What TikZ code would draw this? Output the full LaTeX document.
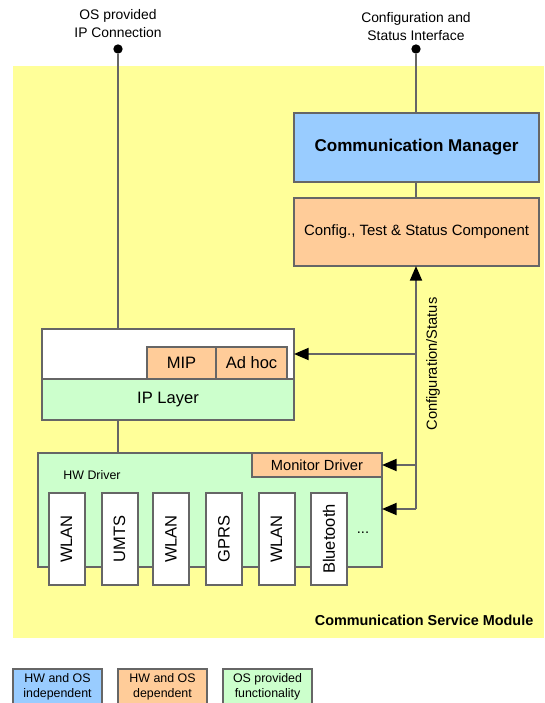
\documentclass[tikz,border=0pt]{standalone}
\usepackage{fontspec}
\setmainfont{Liberation Sans}
\usepackage{tikz}
\usetikzlibrary{arrows.meta, positioning, calc}
\usepackage{xcolor}
\definecolor{indepblue}{RGB}{153,204,255}
\definecolor{depfill}{RGB}{255,204,153}
\definecolor{osgreen}{RGB}{204,255,204}
\definecolor{moduleyellow}{RGB}{255,255,153}
\definecolor{wiregray}{RGB}{102,102,102}
\tikzset{
  basebox/.style={
    rectangle, draw=wiregray, line width=1.5pt, align=center, inner sep=0pt, outer sep=0pt,
    font=\fontsize{12.4}{15}\selectfont
  },
  mgrbox/.style={basebox, fill=indepblue, font=\fontsize{12.8}{15}\selectfont\bfseries},
  cfgbox/.style={basebox, fill=depfill},
  layerbox/.style={basebox, fill=osgreen},
  plainbox/.style={basebox, fill=white},
  techbox/.style={basebox, fill=white, rotate=90, minimum width=69pt, minimum height=27pt},
  legendbox/.style={basebox, minimum width=66.75pt, minimum height=27pt, font=\fontsize{9.3}{11.25}\selectfont},
  wire/.style={draw=wiregray, line width=1.5pt},
  sigarrow/.style={wire, -{Triangle[length=11pt, width=9pt, color=black]}},
  portdot/.style={circle, fill=black, inner sep=0pt, minimum size=7pt},
  toplabel/.style={align=center, font=\fontsize{10.4}{13.5}\selectfont}
}

\begin{document}
\begin{tikzpicture}[x=0.75pt, y=-0.75pt]
  \useasboundingbox (0,0) rectangle (544,703);
  \clip (0,0) rectangle (544,703);
  % module background
  \node[fill=moduleyellow, minimum width=398.25pt, minimum height=429pt, inner sep=0pt] (csm) at (278.5,352) {};
  \node[anchor=east, font=\fontsize{10.8}{13}\selectfont\bfseries] (csmlabel) at (538,620) {Communication Service Module};

  % external interfaces
  \node[portdot] (ipdot) at (118,49) {};
  \node[portdot] (cfgdot) at (416,49) {};
  \node[toplabel] (iplabel) at (118,24) {OS provided\\IP Connection};
  \node[toplabel] (cfglabel) at (416,27) {Configuration and\\Status Interface};

  % manager and config component
  \node[mgrbox, minimum width=183.75pt, minimum height=51.75pt] (mgr) at (416.5,147.5) {Communication Manager};
  \node[cfgbox, minimum width=183.75pt, minimum height=51pt, font=\fontsize{11.2}{14}\selectfont] (cfg) at (416.5,232) {Config., Test \& Status Component};

  % IP layer
  \node[plainbox, minimum width=189pt, minimum height=37.5pt] (iptop) at (168,354) {};
  \node[layerbox, minimum width=189pt, minimum height=30.75pt] (iplayer) at (168,399.5) {IP Layer};
  \node[cfgbox, minimum width=51.75pt, minimum height=24pt] (mip) at (181.5,363) {MIP};
  \node[cfgbox, minimum width=53.25pt, minimum height=24pt] (adhoc) at (251.5,363) {Ad hoc};

  % HW drivers
  \node[layerbox, minimum width=258pt, minimum height=85.5pt] (hwdrv) at (210,510) {};
  \node[cfgbox, minimum width=97.5pt, minimum height=18pt, font=\fontsize{11}{13}\selectfont] (monitor) at (317,465) {Monitor Driver};
  \node[font=\fontsize{9.3}{11}\selectfont] (hwlabel) at (92,475) {HW Driver};
  \foreach \tx/\tname/\ttext in {66.5/wlana/WLAN, 119.5/umts/UMTS, 171/wlanb/WLAN, 224/gprs/GPRS, 276.5/wlanc/WLAN, 329/bt/Bluetooth}
    \node[techbox] (\tname) at (\tx,539) {\ttext};
  \node[font=\fontsize{11}{13}\selectfont] (more) at (363,533) {...};

  % connections
  \draw[wire] (ipdot) -- (iptop.north -| ipdot);
  \draw[wire] (iplayer.south -| ipdot) -- (hwdrv.north -| ipdot);
  \draw[wire] (cfgdot) -- (mgr.north -| cfgdot);
  \draw[wire] (mgr.south -| cfgdot) -- (cfg.north -| cfgdot);
  \coordinate (busend) at (416,509);
  \draw[sigarrow] (busend) -- (cfg.south -| busend);
  \draw[sigarrow] (busend) -- (hwdrv.east |- busend);
  \draw[sigarrow] (monitor.east -| busend) -- (monitor.east);
  \draw[sigarrow] (iptop.east -| busend) -- (iptop.east);
  \node[rotate=90, font=\fontsize{11}{13}\selectfont] (buslabel) at (433,364) {Configuration/Status};

  % legend
  \node[legendbox, fill=indepblue] (lgindep) at (57.5,687) {HW and OS\\independent};
  \node[legendbox, fill=depfill] (lgdep) at (162.5,687) {HW and OS\\dependent};
  \node[legendbox, fill=osgreen] (lgos) at (267.5,687) {OS provided\\functionality};
\end{tikzpicture}
\end{document}
